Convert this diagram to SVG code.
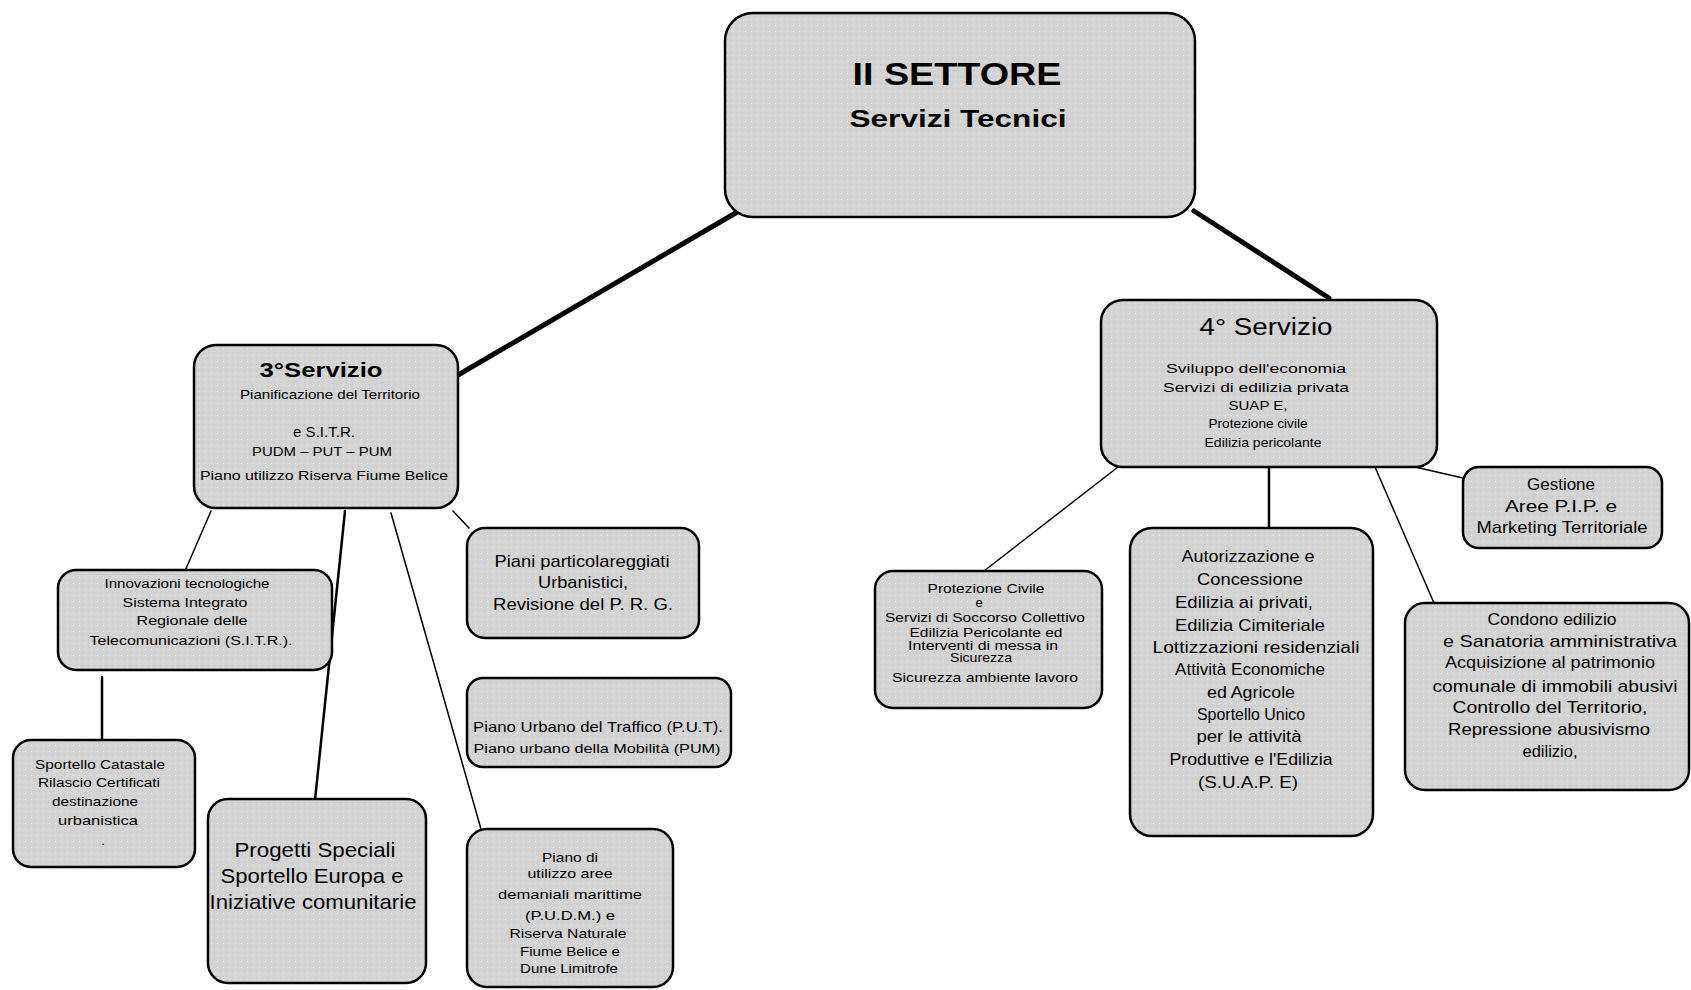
<svg xmlns="http://www.w3.org/2000/svg" width="1691" height="990" viewBox="0 0 1691 990">
  <defs>
    <pattern id="dots" width="6" height="6" patternUnits="userSpaceOnUse">
      <rect width="6" height="6" fill="#d3d3d3"/>
      <rect x="1" y="1" width="1" height="1" fill="#ececec"/>
      <rect x="4" y="4" width="1" height="1" fill="#c4c4c4"/>
    </pattern>
    <style>
      .box { fill: url(#dots); stroke: #000; stroke-width: 2.5; }
      .t { font-family: "Liberation Sans", Arial, sans-serif; fill: #000; text-anchor: middle; }
      .s13 { font-size: 13px; }
      .s15 { font-size: 15px; }
      .s17 { font-size: 17px; }
      .s21 { font-size: 21px; }
      .b { font-weight: bold; }
      .link { stroke: #000; fill: none; stroke-linecap: round; }
      .thick { stroke-width: 5; }
      .mid { stroke-width: 2.5; }
      .thin { stroke-width: 1.5; }
    </style>
  </defs>
  <rect width="1691" height="990" fill="#fff"/>

  <!-- connectors -->
  <g id="connectors">
    <line class="link thick" x1="739" y1="211" x2="458" y2="375"/>
    <line class="link thick" x1="1194" y1="211" x2="1329" y2="298"/>
    <line class="link thin" x1="211" y1="511" x2="185" y2="571"/>
    <line class="link mid" x1="345" y1="511" x2="315" y2="800"/>
    <line class="link thin" x1="391" y1="513" x2="481" y2="829"/>
    <line class="link thin" x1="453" y1="511" x2="469" y2="528"/>
    <line class="link mid" x1="102" y1="677" x2="102" y2="740"/>
    <line class="link thin" x1="1118" y1="467" x2="984" y2="571"/>
    <line class="link mid" x1="1269" y1="467" x2="1269" y2="528"/>
    <line class="link thin" x1="1375" y1="467" x2="1434" y2="603"/>
    <line class="link thin" x1="1415" y1="467" x2="1463" y2="478"/>
  </g>

  <!-- sector head -->
  <g id="settore">
    <rect class="box" x="725" y="13" width="470" height="204" rx="28"/>
    <text class="t b" x="957" y="85" font-size="31" textLength="209" lengthAdjust="spacingAndGlyphs">II SETTORE</text>
    <text class="t b" x="958" y="127" font-size="23" textLength="217" lengthAdjust="spacingAndGlyphs">Servizi Tecnici</text>
  </g>

  <!-- 3rd service -->
  <g id="servizio3">
    <rect class="box" x="194" y="345" width="264" height="163" rx="22"/>
    <text class="t b s21" x="321" y="377" textLength="123" lengthAdjust="spacingAndGlyphs">3°Servizio</text>
    <text class="t s13" x="330" y="399" textLength="180" lengthAdjust="spacingAndGlyphs">Pianificazione del Territorio</text>
    <text class="t s15" x="324" y="437" textLength="62" lengthAdjust="spacingAndGlyphs">e S.I.T.R.</text>
    <text class="t s13" x="322" y="456" textLength="140" lengthAdjust="spacingAndGlyphs">PUDM – PUT – PUM</text>
    <text class="t s13" x="324" y="480" textLength="248" lengthAdjust="spacingAndGlyphs">Piano utilizzo Riserva Fiume Belice</text>
  </g>

  <!-- 4th service -->
  <g id="servizio4">
    <rect class="box" x="1101" y="300" width="336" height="167" rx="22"/>
    <text class="t" x="1266" y="335" font-size="23" textLength="133" lengthAdjust="spacingAndGlyphs">4° Servizio</text>
    <text class="t s13" x="1256" y="373" textLength="180" lengthAdjust="spacingAndGlyphs">Sviluppo dell'economia</text>
    <text class="t s13" x="1256" y="392" textLength="186" lengthAdjust="spacingAndGlyphs">Servizi di edilizia privata</text>
    <text class="t s13" x="1258" y="410" textLength="59" lengthAdjust="spacingAndGlyphs">SUAP E,</text>
    <text class="t s13" x="1258" y="428" textLength="99" lengthAdjust="spacingAndGlyphs">Protezione civile</text>
    <text class="t s13" x="1263" y="447" textLength="117" lengthAdjust="spacingAndGlyphs">Edilizia pericolante</text>
  </g>

  <g id="innovazioni">
    <rect class="box" x="58" y="570" width="274" height="100" rx="18"/>
    <text class="t s13" x="187" y="588" textLength="165" lengthAdjust="spacingAndGlyphs">Innovazioni tecnologiche</text>
    <text class="t s13" x="185" y="607" textLength="125" lengthAdjust="spacingAndGlyphs">Sistema Integrato</text>
    <text class="t s13" x="192" y="625" textLength="111" lengthAdjust="spacingAndGlyphs">Regionale delle</text>
    <text class="t s13" x="191" y="645" textLength="203" lengthAdjust="spacingAndGlyphs">Telecomunicazioni (S.I.T.R.).</text>
  </g>

  <g id="catastale">
    <rect class="box" x="13" y="740" width="182" height="127" rx="18"/>
    <text class="t s13" x="100" y="769" textLength="130" lengthAdjust="spacingAndGlyphs">Sportello Catastale</text>
    <text class="t s13" x="99" y="787" textLength="122" lengthAdjust="spacingAndGlyphs">Rilascio Certificati</text>
    <text class="t s13" x="95" y="806" textLength="86" lengthAdjust="spacingAndGlyphs">destinazione</text>
    <text class="t s13" x="98" y="825" textLength="80" lengthAdjust="spacingAndGlyphs">urbanistica</text>
    <text class="t s13" x="103" y="845">.</text>
  </g>

  <g id="piani">
    <rect class="box" x="467" y="528" width="232" height="110" rx="18"/>
    <text class="t s17" x="582" y="567" textLength="175" lengthAdjust="spacingAndGlyphs">Piani particolareggiati</text>
    <text class="t s17" x="583" y="588" textLength="90" lengthAdjust="spacingAndGlyphs">Urbanistici,</text>
    <text class="t s17" x="583" y="610" textLength="180" lengthAdjust="spacingAndGlyphs">Revisione del P. R. G.</text>
  </g>

  <g id="traffico">
    <rect class="box" x="467" y="678" width="264" height="89" rx="16"/>
    <text class="t s15" x="598" y="732" textLength="250" lengthAdjust="spacingAndGlyphs">Piano Urbano del Traffico (P.U.T).</text>
    <text class="t s13" x="597" y="753" textLength="247" lengthAdjust="spacingAndGlyphs">Piano urbano della Mobilità (PUM)</text>
  </g>

  <g id="progetti">
    <rect class="box" x="208" y="799" width="218" height="184" rx="20"/>
    <text class="t" x="315" y="857" font-size="21" textLength="161" lengthAdjust="spacingAndGlyphs">Progetti Speciali</text>
    <text class="t" x="312" y="883" font-size="21" textLength="183" lengthAdjust="spacingAndGlyphs">Sportello Europa e</text>
    <text class="t" x="313" y="909" font-size="21" textLength="207" lengthAdjust="spacingAndGlyphs">Iniziative comunitarie</text>
  </g>

  <g id="pudm">
    <rect class="box" x="467" y="829" width="206" height="158" rx="20"/>
    <text class="t s13" x="570" y="862" textLength="56" lengthAdjust="spacingAndGlyphs">Piano di</text>
    <text class="t s13" x="570" y="878" textLength="85" lengthAdjust="spacingAndGlyphs">utilizzo aree</text>
    <text class="t s13" x="570" y="899" textLength="144" lengthAdjust="spacingAndGlyphs">demaniali marittime</text>
    <text class="t s13" x="570" y="920" textLength="90" lengthAdjust="spacingAndGlyphs">(P.U.D.M.) e</text>
    <text class="t s13" x="568" y="938" textLength="117" lengthAdjust="spacingAndGlyphs">Riserva Naturale</text>
    <text class="t s13" x="570" y="956" textLength="100" lengthAdjust="spacingAndGlyphs">Fiume Belice e</text>
    <text class="t s13" x="569" y="973" textLength="98" lengthAdjust="spacingAndGlyphs">Dune Limitrofe</text>
  </g>

  <g id="protezione">
    <rect class="box" x="875" y="571" width="227" height="137" rx="18"/>
    <text class="t s13" x="986" y="593" textLength="117" lengthAdjust="spacingAndGlyphs">Protezione Civile</text>
    <text class="t s13" x="979" y="607">e</text>
    <text class="t s13" x="985" y="622" textLength="200" lengthAdjust="spacingAndGlyphs">Servizi di Soccorso Collettivo</text>
    <text class="t s13" x="986" y="637" textLength="153" lengthAdjust="spacingAndGlyphs">Edilizia Pericolante ed</text>
    <text class="t s13" x="983" y="650" textLength="150" lengthAdjust="spacingAndGlyphs">Interventi di messa in</text>
    <text class="t s13" x="981" y="662" textLength="62" lengthAdjust="spacingAndGlyphs">Sicurezza</text>
    <text class="t s13" x="985" y="682" textLength="186" lengthAdjust="spacingAndGlyphs">Sicurezza ambiente lavoro</text>
  </g>

  <g id="autorizzazione">
    <rect class="box" x="1130" y="528" width="243" height="308" rx="22"/>
    <text class="t s17" x="1248" y="562" textLength="133" lengthAdjust="spacingAndGlyphs">Autorizzazione e</text>
    <text class="t s17" x="1250" y="585" textLength="106" lengthAdjust="spacingAndGlyphs">Concessione</text>
    <text class="t s17" x="1244" y="608" textLength="138" lengthAdjust="spacingAndGlyphs">Edilizia ai privati,</text>
    <text class="t s17" x="1250" y="631" textLength="150" lengthAdjust="spacingAndGlyphs">Edilizia Cimiteriale</text>
    <text class="t s17" x="1256" y="653" textLength="207" lengthAdjust="spacingAndGlyphs">Lottizzazioni residenziali</text>
    <text class="t s17" x="1250" y="675" textLength="150" lengthAdjust="spacingAndGlyphs">Attività Economiche</text>
    <text class="t s17" x="1251" y="698" textLength="88" lengthAdjust="spacingAndGlyphs">ed Agricole</text>
    <text class="t s17" x="1251" y="720" textLength="108" lengthAdjust="spacingAndGlyphs">Sportello Unico</text>
    <text class="t s17" x="1249" y="742" textLength="105" lengthAdjust="spacingAndGlyphs">per le attività</text>
    <text class="t s17" x="1251" y="765" textLength="163" lengthAdjust="spacingAndGlyphs">Produttive e l'Edilizia</text>
    <text class="t s17" x="1248" y="788" textLength="100" lengthAdjust="spacingAndGlyphs">(S.U.A.P. E)</text>
  </g>

  <g id="condono">
    <rect class="box" x="1405" y="603" width="284" height="187" rx="20"/>
    <text class="t s17" x="1552" y="625" textLength="129" lengthAdjust="spacingAndGlyphs">Condono edilizio</text>
    <text class="t s17" x="1560" y="647" textLength="234" lengthAdjust="spacingAndGlyphs">e Sanatoria amministrativa</text>
    <text class="t s17" x="1550" y="668" textLength="210" lengthAdjust="spacingAndGlyphs">Acquisizione al patrimonio</text>
    <text class="t s17" x="1555" y="692" textLength="245" lengthAdjust="spacingAndGlyphs">comunale di immobili abusivi</text>
    <text class="t s17" x="1550" y="713" textLength="195" lengthAdjust="spacingAndGlyphs">Controllo del Territorio,</text>
    <text class="t s17" x="1549" y="735" textLength="202" lengthAdjust="spacingAndGlyphs">Repressione abusivismo</text>
    <text class="t s17" x="1550" y="757" textLength="55" lengthAdjust="spacingAndGlyphs">edilizio,</text>
  </g>

  <g id="gestione">
    <rect class="box" x="1463" y="467" width="199" height="81" rx="16"/>
    <text class="t s17" x="1561" y="490" textLength="68" lengthAdjust="spacingAndGlyphs">Gestione</text>
    <text class="t s17" x="1561" y="512" textLength="112" lengthAdjust="spacingAndGlyphs">Aree P.I.P. e</text>
    <text class="t s17" x="1562" y="533" textLength="171" lengthAdjust="spacingAndGlyphs">Marketing Territoriale</text>
  </g>
</svg>
